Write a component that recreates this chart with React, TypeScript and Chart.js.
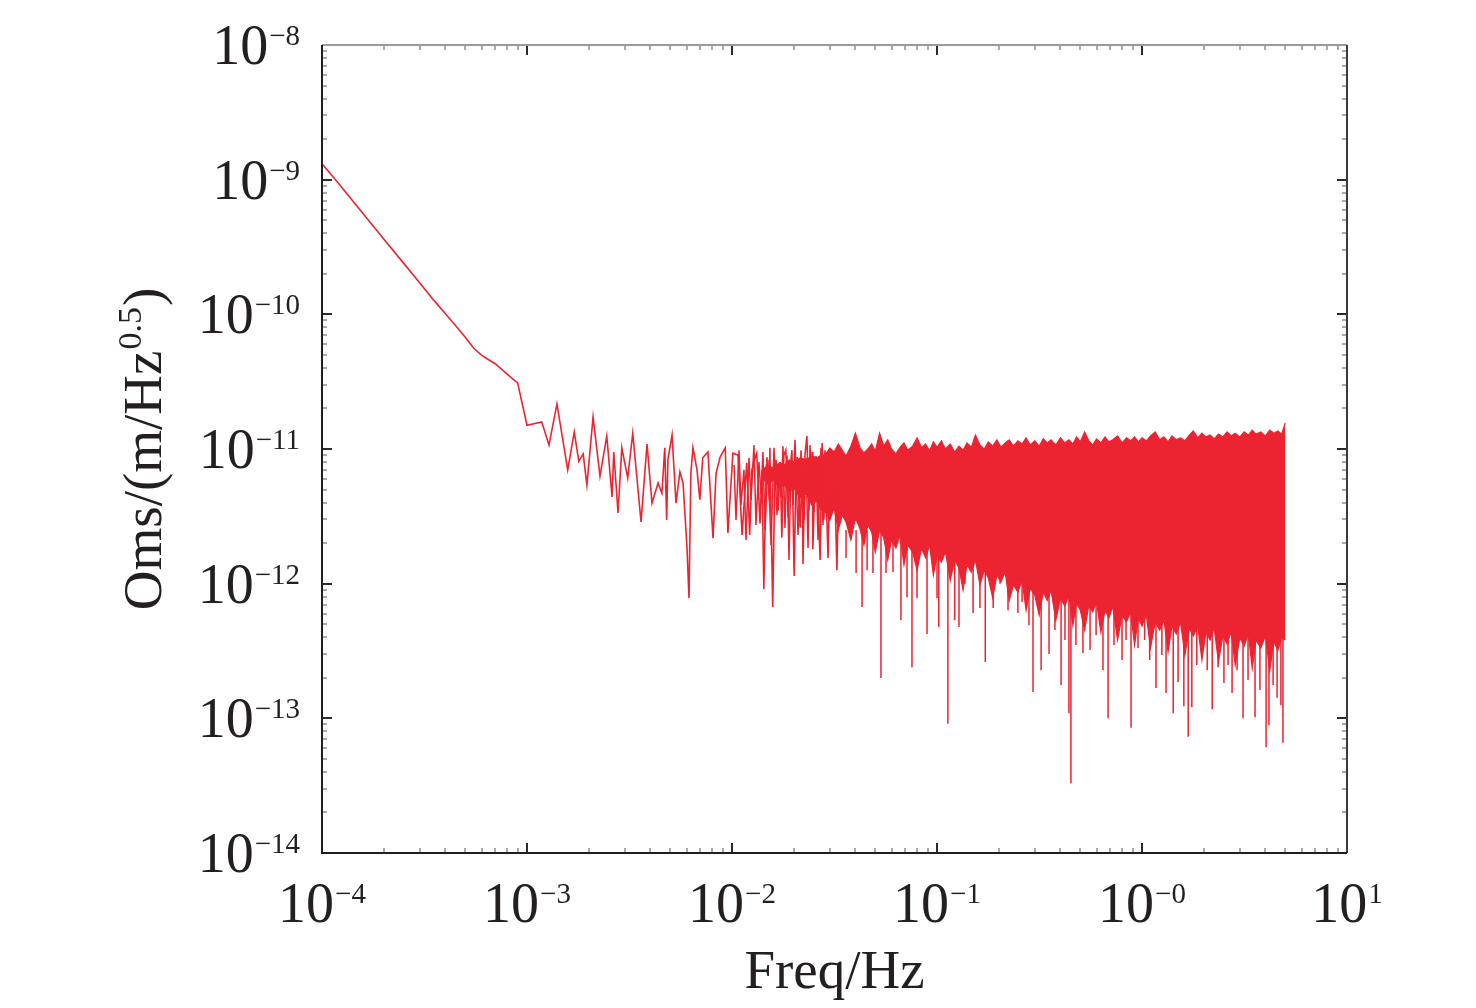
import { useEffect, useRef } from 'react';
import { Chart, registerables } from 'chart.js';

Chart.register(...registerables);

const RED = '#ec2330';
const INK = '#231f20';
const SERIF = '"Liberation Serif", "Times New Roman", serif';

// low-frequency trace (single line up to ~3e-2 Hz)
const lineFreq = [
  1.0e-4, 1.2e-4, 1.5e-4, 2.0e-4, 2.5e-4, 3.0e-4, 3.5e-4, 4.0e-4, 4.5e-4, 5.0e-4,
  5.5e-4, 6.0e-4, 6.5e-4, 7.0e-4, 8.0e-4, 9.0e-4, 1.0e-3, 1.18e-3, 1.28e-3, 1.4e-3,
  1.58e-3, 1.7e-3, 1.79e-3, 1.88e-3, 1.96e-3, 2.1e-3, 2.27e-3, 2.45e-3, 2.6e-3, 2.65e-3,
  2.78e-3, 2.9e-3, 3.1e-3, 3.28e-3, 3.6e-3, 3.85e-3, 4.07e-3, 4.36e-3, 4.55e-3, 4.7e-3,
  4.8e-3, 4.87e-3, 5.1e-3, 5.33e-3, 5.57e-3, 5.77e-3, 6.03e-3, 6.17e-3, 6.3e-3, 6.45e-3,
  6.75e-3, 6.97e-3, 7.2e-3, 7.63e-3, 8.08e-3, 8.36e-3, 8.75e-3, 9.27e-3, 9.55e-3, 1.01e-2,
  1.07e-2, 1.12e-2, 1.18e-2, 1.22e-2, 1.25e-2, 1.30e-2, 1.32e-2, 1.37e-2, 1.40e-2, 1.43e-2,
  1.47e-2, 1.48e-2, 1.52e-2, 1.53e-2, 1.58e-2, 1.62e-2, 1.64e-2, 1.68e-2, 1.72e-2, 1.75e-2,
  1.79e-2, 1.83e-2, 1.88e-2, 1.92e-2, 1.96e-2, 2.01e-2, 2.05e-2, 2.08e-2, 2.15e-2, 2.20e-2,
  2.22e-2, 2.27e-2, 2.32e-2, 2.37e-2, 2.43e-2, 2.46e-2, 2.48e-2, 2.54e-2, 2.60e-2, 2.69e-2,
  2.75e-2, 2.81e-2, 2.84e-2, 2.94e-2, 3.01e-2, 3.08e-2, 3.15e-2, 3.25e-2, 3.33e-2,
];
const lineAmp = [
  1.31e-9, 9.45e-10, 6.21e-10, 3.62e-10, 2.40e-10, 1.71e-10, 1.28e-10, 1.01e-10, 8.2e-11, 6.77e-11,
  5.6e-11, 4.98e-11, 4.6e-11, 4.3e-11, 3.6e-11, 3.1e-11, 1.5e-11, 1.59e-11, 1.07e-11, 2.16e-11,
  7.0e-12, 1.34e-11, 8.1e-12, 9.2e-12, 5.4e-12, 1.73e-11, 6.3e-12, 1.25e-11, 4.4e-12, 9.5e-12,
  3.35e-12, 1.02e-11, 6.1e-12, 1.31e-11, 2.87e-12, 1.09e-11, 3.97e-12, 5.6e-12, 4.7e-12, 1.02e-11,
  2.97e-12, 8.4e-12, 1.27e-11, 3.97e-12, 6.75e-12, 5.6e-12, 1.87e-12, 7.8e-13, 6.6e-12, 1.02e-11,
  7.0e-12, 4.2e-12, 8.6e-12, 9.5e-12, 2.18e-12, 6.6e-12, 8.7e-12, 1.02e-11, 2.38e-12, 9.3e-12,
  9.0e-12, 2.3e-12, 7.9e-12, 2.3e-12, 7.0e-12, 8.7e-12, 9.3e-12, 2.8e-12, 7.0e-12, 9.1e-13,
  7.6e-12, 8.7e-12, 4.2e-12, 1.02e-11, 6.7e-13, 7.0e-12, 8.3e-12, 3.5e-12, 8.0e-12, 2.2e-12,
  9.0e-12, 9.8e-12, 3.1e-12, 7.0e-12, 9.8e-12, 1.14e-12, 6.4e-12, 8.7e-12, 2.6e-12, 7.6e-12,
  1.4e-12, 9.0e-12, 1.25e-11, 3.5e-12, 7.0e-12, 9.5e-12, 1.8e-12, 6.4e-12, 7.0e-12, 1.5e-12,
  1.11e-11, 3.0e-12, 9.8e-12, 1.55e-12, 8.3e-12, 3.8e-12, 7.6e-12, 1.26e-12, 9.0e-12,
];

// second trace through the 1e-2 .. 3e-2 Hz mesh
const meshFreq = [
  1.023e-2, 1.046e-2, 1.082e-2, 1.106e-2, 1.144e-2, 1.170e-2, 1.210e-2, 1.238e-2, 1.280e-2, 1.309e-2,
  1.354e-2, 1.385e-2, 1.416e-2, 1.449e-2, 1.498e-2, 1.550e-2, 1.603e-2, 1.658e-2, 1.696e-2, 1.734e-2,
  1.773e-2, 1.813e-2, 1.855e-2, 1.897e-2, 1.940e-2, 1.984e-2, 2.029e-2, 2.099e-2, 2.171e-2, 2.246e-2,
  2.297e-2, 2.349e-2, 2.401e-2, 2.512e-2, 2.568e-2, 2.626e-2, 2.717e-2, 2.778e-2, 2.874e-2,
];
const meshAmp = [
  7.6e-12, 2.97e-12, 9.8e-12, 3.84e-12, 7.0e-12, 2.11e-12, 8.6e-12, 4.18e-12, 1.07e-11, 2.73e-12,
  8.0e-12, 4.56e-12, 9.5e-12, 2.5e-12, 8.3e-12, 1.94e-12, 1.02e-11, 3.23e-12, 7.49e-12, 4.33e-12,
  1.05e-11, 2.59e-12, 9.0e-12, 1.5e-12, 8.0e-12, 3.84e-12, 1.17e-11, 2.3e-12, 9.8e-12, 2.97e-12,
  8.6e-12, 1.84e-12, 1.07e-11, 3.41e-12, 8.87e-12, 2.11e-12, 1.02e-11, 2.73e-12, 9.5e-12,
];

// dense band: upper edge and lower solid edge
const bandFreq = [
  1.40e-2, 1.50e-2, 1.60e-2, 1.70e-2, 1.80e-2, 1.90e-2, 2.00e-2, 2.15e-2, 2.30e-2, 2.45e-2,
  2.60e-2, 2.72e-2,
  2.85e-2, 3.0e-2, 3.15e-2, 3.3e-2, 3.45e-2, 3.6e-2, 3.8e-2, 4.0e-2, 4.2e-2, 4.4e-2,
  4.6e-2, 4.8e-2, 5.0e-2, 5.25e-2, 5.5e-2, 5.75e-2, 6.0e-2, 6.3e-2, 6.6e-2, 6.9e-2,
  7.2e-2, 7.6e-2, 8.0e-2, 8.4e-2, 8.8e-2, 9.2e-2, 9.6e-2,
  0.100, 0.105, 0.110, 0.116, 0.122, 0.128, 0.134, 0.140, 0.147, 0.154,
  0.162, 0.170, 0.178, 0.187, 0.196, 0.205, 0.215, 0.225, 0.236, 0.248,
  0.260, 0.272, 0.285, 0.300, 0.315, 0.330, 0.345, 0.360, 0.380, 0.400,
  0.420, 0.440, 0.460, 0.480, 0.500, 0.525, 0.550, 0.575, 0.600, 0.630,
  0.660, 0.690, 0.720, 0.760, 0.800, 0.840, 0.880, 0.920, 0.960,
  1.00, 1.05, 1.10, 1.16, 1.22, 1.28, 1.34, 1.40, 1.47, 1.54,
  1.62, 1.70, 1.78, 1.87, 1.96, 2.05, 2.15, 2.25, 2.36, 2.48,
  2.60, 2.72, 2.85, 3.00, 3.15, 3.30, 3.45, 3.60, 3.80, 4.00,
  4.20, 4.40, 4.60, 4.80, 5.00,
];
const bandTop = [
  7.0e-12, 7.49e-12, 7.23e-12, 7.88e-12, 7.6e-12, 8.3e-12, 8.0e-12, 8.6e-12, 8.3e-12, 8.87e-12,
  8.6e-12, 9.0e-12,
  9.0e-12, 1.02e-11, 9.5e-12, 1.09e-11, 9.8e-12, 8.87e-12, 1.05e-11, 1.31e-11, 1.03e-11, 9.34e-12,
  1.0e-11, 1.09e-11, 9.67e-12, 1.31e-11, 1.05e-11, 1.17e-11, 1.0e-11, 9.2e-12, 1.03e-11, 1.11e-11,
  9.8e-12, 1.05e-11, 1.21e-11, 1.02e-11, 1.09e-11, 9.67e-12, 1.13e-11,
  1.03e-11, 1.15e-11, 1.0e-11, 1.09e-11, 9.5e-12, 1.05e-11, 9.8e-12, 1.11e-11, 1.03e-11, 1.27e-11,
  1.07e-11, 1.0e-11, 1.13e-11, 1.05e-11, 1.17e-11, 1.03e-11, 1.11e-11, 1.17e-11, 1.05e-11, 1.15e-11,
  1.09e-11, 1.21e-11, 1.07e-11, 1.15e-11, 1.05e-11, 1.19e-11, 1.11e-11, 1.17e-11, 1.07e-11, 1.21e-11,
  1.11e-11, 1.17e-11, 1.09e-11, 1.23e-11, 1.13e-11, 1.34e-11, 1.15e-11, 1.07e-11, 1.19e-11, 1.11e-11,
  1.23e-11, 1.13e-11, 1.17e-11, 1.25e-11, 1.11e-11, 1.21e-11, 1.15e-11, 1.23e-11, 1.13e-11,
  1.21e-11, 1.15e-11, 1.25e-11, 1.34e-11, 1.17e-11, 1.23e-11, 1.13e-11, 1.25e-11, 1.17e-11, 1.21e-11,
  1.15e-11, 1.27e-11, 1.36e-11, 1.21e-11, 1.31e-11, 1.23e-11, 1.27e-11, 1.19e-11, 1.29e-11, 1.23e-11,
  1.34e-11, 1.25e-11, 1.31e-11, 1.23e-11, 1.34e-11, 1.27e-11, 1.38e-11, 1.29e-11, 1.34e-11, 1.25e-11,
  1.38e-11, 1.31e-11, 1.36e-11, 1.29e-11, 1.56e-11,
];
const bandBottom = [
  6.1e-12, 5.5e-12, 5.89e-12, 5.13e-12, 5.4e-12, 4.8e-12, 5.13e-12, 4.33e-12, 4.64e-12, 3.84e-12,
  4.18e-12, 3.53e-12,
  3.41e-12, 2.97e-12, 3.65e-12, 2.5e-12, 3.23e-12, 2.87e-12, 2.11e-12, 3.07e-12, 2.59e-12, 1.94e-12,
  2.73e-12, 2.42e-12, 1.72e-12, 2.5e-12, 2.18e-12, 1.5e-12, 2.11e-12, 1.84e-12, 2.3e-12, 1.38e-12,
  1.94e-12, 1.72e-12, 1.26e-12, 1.84e-12, 1.55e-12, 1.94e-12, 1.16e-12,
  1.61e-12, 1.45e-12, 1.72e-12, 1.06e-12, 1.5e-12, 1.31e-12, 8.95e-13, 1.38e-12, 1.22e-12, 1.5e-12,
  9.8e-13, 1.26e-12, 1.1e-12, 7.82e-13, 1.16e-12, 1.03e-12, 1.22e-12, 7.5e-13, 9.8e-13, 8.67e-13,
  1.06e-12, 6.36e-13, 9.28e-13, 8.2e-13, 5.84e-13, 8.67e-13, 7.5e-13, 8.95e-13, 5.36e-13, 7.82e-13,
  6.82e-13, 8.2e-13, 4.92e-13, 7.18e-13, 6.36e-13, 4.52e-13, 6.9e-13, 6.16e-13, 7.3e-13, 4.37e-13,
  6.36e-13, 5.56e-13, 6.82e-13, 3.81e-13, 5.84e-13, 5.19e-13, 6.16e-13, 3.5e-13, 5.56e-13,
  4.85e-13, 5.84e-13, 3.33e-13, 5.19e-13, 4.52e-13, 5.36e-13, 3.11e-13, 4.85e-13, 4.23e-13, 5.19e-13,
  2.95e-13, 4.68e-13, 4.09e-13, 4.85e-13, 2.71e-13, 4.37e-13, 3.81e-13, 4.68e-13, 2.62e-13, 4.09e-13,
  3.56e-13, 4.37e-13, 2.49e-13, 3.95e-13, 3.44e-13, 4.23e-13, 2.36e-13, 3.81e-13, 3.33e-13, 4.09e-13,
  2.28e-13, 3.69e-13, 3.21e-13, 3.95e-13, 3.81e-13,
];

// deep downward spikes below the band
const spikeFreq = [
  3.60e-2, 4.03e-2, 4.31e-2, 4.56e-2, 4.87e-2, 5.33e-2, 5.64e-2, 6.10e-2, 6.67e-2, 7.14e-2,
  7.55e-2, 7.99e-2, 8.94e-2, 0.100, 0.102, 0.113, 0.122, 0.128, 0.137, 0.150,
  0.162, 0.172, 0.188, 0.203, 0.222, 0.248, 0.260, 0.281, 0.294, 0.322,
  0.352, 0.376, 0.403, 0.421, 0.440, 0.450, 0.476, 0.515, 0.558, 0.597,
  0.645, 0.683, 0.730, 0.799, 0.836, 0.884, 0.956, 1.03, 1.09, 1.17,
  1.25, 1.31, 1.42, 1.50, 1.60, 1.68, 1.75, 1.85, 1.96, 2.08,
  2.20, 2.35, 2.51, 2.63, 2.75, 2.91, 3.11, 3.29, 3.56, 3.76,
  4.03, 4.16, 4.36, 4.56, 4.76, 4.87,
];
const spikeAmp = [
  1.55e-12, 1.20e-12, 6.7e-13, 1.26e-12, 1.2e-12, 1.99e-13, 1.2e-12, 1.22e-12, 5.36e-13, 7.9e-13,
  2.4e-13, 7.8e-13, 4.23e-13, 7.8e-13, 4.76e-13, 9.1e-14, 5.36e-13, 4.76e-13, 1.0e-12, 6.06e-13,
  6.6e-13, 2.62e-13, 6.6e-13, 1.0e-12, 6.36e-13, 6.06e-13, 7.3e-13, 4.92e-13, 1.57e-13, 2.28e-13,
  3.0e-13, 4.52e-13, 1.77e-13, 3.81e-13, 1.09e-13, 3.3e-14, 3.5e-13, 3.05e-13, 3.21e-13, 4.15e-13,
  2.28e-13, 1.0e-13, 3.5e-13, 2.71e-13, 3.81e-13, 8.5e-14, 3.33e-13, 3.81e-13, 2.71e-13, 1.68e-13,
  2.95e-13, 1.54e-13, 1.09e-13, 1.86e-13, 1.23e-13, 7.3e-14, 1.21e-13, 2.49e-13, 2.85e-13, 2.28e-13,
  1.17e-13, 2.4e-13, 1.83e-13, 2.49e-13, 1.54e-13, 2.28e-13, 1.0e-13, 1.93e-13, 1.02e-13, 1.62e-13,
  6.1e-14, 8.9e-14, 1.77e-13, 1.42e-13, 1.25e-13, 6.6e-14,
];
const SPIKE_TOP = 2.5e-12;

const xTicks = [1e-4, 1e-3, 1e-2, 1e-1, 1, 10];
const xTickExp = ['\u22124', '\u22123', '\u22122', '\u22121', '\u22120', '1'];
const yTicks = [1e-8, 1e-9, 1e-10, 1e-11, 1e-12, 1e-13, 1e-14];
const yTickExp = ['\u22128', '\u22129', '\u221210', '\u221211', '\u221212', '\u221213', '\u221214'];

const MAJOR = 10;
const MINOR = 5;

function drawPower(ctx: CanvasRenderingContext2D, exp: string, x: number, baseline: number, align: 'center' | 'right') {
  ctx.font = `56px ${SERIF}`;
  const wb = ctx.measureText('10').width;
  ctx.font = `29px ${SERIF}`;
  const we = ctx.measureText(exp).width;
  const total = wb + we + 1;
  const left = align === 'center' ? x - total / 2 : x - total;
  ctx.textAlign = 'left';
  ctx.textBaseline = 'alphabetic';
  ctx.font = `56px ${SERIF}`;
  ctx.fillText('10', left, baseline);
  ctx.font = `29px ${SERIF}`;
  ctx.fillText(exp, left + wb + 1, baseline - 19);
}

const framePlugin = {
  id: 'matlabFrame',
  afterDraw(chart: Chart) {
    const { ctx, chartArea: a } = chart;
    const xs = chart.scales.x;
    const ys = chart.scales.y;
    ctx.save();

    // minor ticks
    ctx.lineWidth = 1.5;
    ctx.strokeStyle = '#8e8e8e';
    ctx.beginPath();
    for (let e = -4; e < 1; e++) {
      for (let m = 2; m < 10; m++) {
        const px = Math.round(xs.getPixelForValue(m * Math.pow(10, e)));
        ctx.moveTo(px, a.bottom);
        ctx.lineTo(px, a.bottom - MINOR);
        ctx.moveTo(px, a.top);
        ctx.lineTo(px, a.top + MINOR);
      }
    }
    for (let e = -14; e < -8; e++) {
      for (let m = 2; m < 10; m++) {
        const py = Math.round(ys.getPixelForValue(m * Math.pow(10, e)));
        ctx.moveTo(a.left, py);
        ctx.lineTo(a.left + MINOR, py);
        ctx.moveTo(a.right, py);
        ctx.lineTo(a.right - MINOR, py);
      }
    }
    ctx.stroke();

    // major ticks
    ctx.strokeStyle = '#2b2b2b';
    ctx.lineWidth = 2;
    ctx.beginPath();
    xTicks.forEach((v) => {
      const px = Math.round(xs.getPixelForValue(v));
      ctx.moveTo(px, a.bottom);
      ctx.lineTo(px, a.bottom - MAJOR);
      ctx.moveTo(px, a.top);
      ctx.lineTo(px, a.top + MAJOR);
    });
    yTicks.forEach((v) => {
      const py = Math.round(ys.getPixelForValue(v));
      ctx.moveTo(a.left, py);
      ctx.lineTo(a.left + MAJOR, py);
      ctx.moveTo(a.right, py);
      ctx.lineTo(a.right - MAJOR, py);
    });
    ctx.stroke();

    // box
    ctx.lineWidth = 2;
    ctx.strokeStyle = '#9a9a9a';
    ctx.beginPath();
    ctx.moveTo(a.left, a.top);
    ctx.lineTo(a.right, a.top);
    ctx.stroke();
    ctx.strokeStyle = '#3a3a3a';
    ctx.beginPath();
    ctx.moveTo(a.right, a.top);
    ctx.lineTo(a.right, a.bottom);
    ctx.stroke();
    ctx.strokeStyle = '#1e1e1e';
    ctx.beginPath();
    ctx.moveTo(a.left, a.top);
    ctx.lineTo(a.left, a.bottom);
    ctx.lineTo(a.right, a.bottom);
    ctx.stroke();

    // tick labels
    ctx.fillStyle = INK;
    xTicks.forEach((v, i) => {
      drawPower(ctx, xTickExp[i], xs.getPixelForValue(v), a.bottom + 69, 'center');
    });
    yTicks.forEach((v, i) => {
      drawPower(ctx, yTickExp[i], a.left - 22, ys.getPixelForValue(v) + 19, 'right');
    });

    // axis titles
    ctx.font = `55px ${SERIF}`;
    ctx.textAlign = 'center';
    ctx.textBaseline = 'alphabetic';
    ctx.fillText('Freq/Hz', (a.left + a.right) / 2, 988);

    ctx.save();
    ctx.translate(161, (a.top + a.bottom) / 2);
    ctx.rotate(-Math.PI / 2);
    const head = 'Oms/(m/Hz';
    const sup = '0.5';
    const tail = ')';
    ctx.font = `55px ${SERIF}`;
    const wHead = ctx.measureText(head).width;
    const wTail = ctx.measureText(tail).width;
    ctx.font = `34px ${SERIF}`;
    const wSup = ctx.measureText(sup).width;
    const total = wHead + wSup + wTail + 2;
    let cx = -total / 2;
    ctx.textAlign = 'left';
    ctx.font = `55px ${SERIF}`;
    ctx.fillText(head, cx, 0);
    cx += wHead + 1;
    ctx.font = `34px ${SERIF}`;
    ctx.fillText(sup, cx, -20);
    cx += wSup + 1;
    ctx.font = `55px ${SERIF}`;
    ctx.fillText(tail, cx, 0);
    ctx.restore();

    ctx.restore();
  },
};

export default function App() {
  const canvasRef = useRef<HTMLCanvasElement>(null);

  useEffect(() => {
    if (!canvasRef.current) return;

    const spikeData: { x: number; y: number | null }[] = [];
    spikeFreq.forEach((f, i) => {
      spikeData.push({ x: f, y: SPIKE_TOP });
      spikeData.push({ x: f, y: spikeAmp[i] });
      spikeData.push({ x: f, y: null });
    });

    const lineStyle = { borderColor: RED, pointRadius: 0, tension: 0, fill: false };

    const chart = new Chart(canvasRef.current, {
      type: 'line',
      data: {
        datasets: [
          {
            ...lineStyle,
            data: lineFreq.map((f, i) => ({ x: f, y: lineAmp[i] })),
            borderWidth: 1.6,
          },
          {
            ...lineStyle,
            data: meshFreq.map((f, i) => ({ x: f, y: meshAmp[i] })),
            borderWidth: 1.5,
          },
          {
            ...lineStyle,
            data: bandFreq.map((f, i) => ({ x: f, y: bandTop[i] })),
            backgroundColor: RED,
            borderWidth: 1.2,
          },
          {
            ...lineStyle,
            data: bandFreq.map((f, i) => ({ x: f, y: bandBottom[i] })),
            backgroundColor: RED,
            borderWidth: 1.2,
            fill: '-1',
          },
          {
            ...lineStyle,
            data: spikeData,
            borderWidth: 1.5,
            spanGaps: false,
          },
        ],
      },
      options: {
        animation: false,
        responsive: false,
        events: [],
        layout: { padding: { left: 322, right: 129, top: 45, bottom: 155 } },
        plugins: {
          legend: { display: false },
          tooltip: { enabled: false },
        },
        scales: {
          x: { type: 'logarithmic', min: 1e-4, max: 10, display: false },
          y: { type: 'logarithmic', min: 1e-14, max: 1e-8, display: false },
        },
      },
      plugins: [framePlugin],
    });

    return () => chart.destroy();
  }, []);

  return (
    <div style={{ position: 'absolute', left: 0, top: 0, width: 1476, height: 1008, background: '#ffffff' }}>
      <canvas ref={canvasRef} width={1476} height={1008} style={{ width: 1476, height: 1008 }} />
    </div>
  );
}
